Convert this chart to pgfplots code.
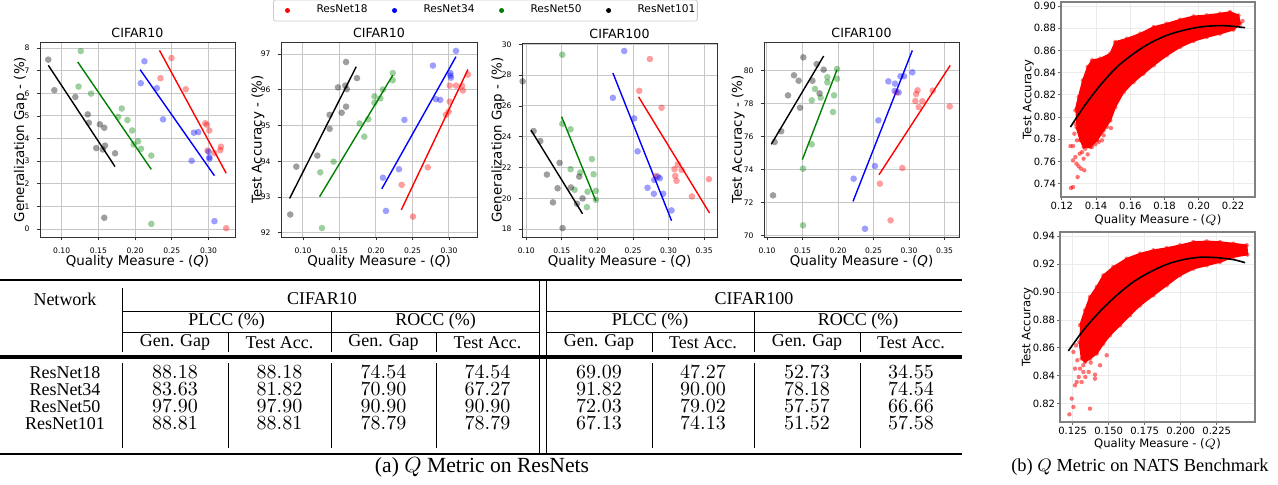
\documentclass[border=0pt]{standalone}
\usepackage{pgfplots}
\usepackage{pgfplotstable}
\usepackage{graphicx}
\pgfplotsset{compat=1.18}
\usepackage{fontspec}
\setmainfont{Liberation Serif}
\newfontfamily\djv{DejaVu Sans}
\definecolor{mgreen}{RGB}{0,128,0}

% ---- NATS clouds (outline of the dense region) ----
\pgfplotstableread{
x y
0.1279 0.8060
0.1298 0.8181
0.1323 0.8331
0.1351 0.8451
0.1376 0.8511
0.1424 0.8526
0.1483 0.8571
0.1512 0.8676
0.1580 0.8706
0.1658 0.8751
0.1736 0.8811
0.1813 0.8841
0.1891 0.8877
0.1969 0.8907
0.2046 0.8916
0.2124 0.8931
0.2182 0.8946
0.2231 0.8916
0.2241 0.8841
0.2202 0.8787
0.2124 0.8751
0.2046 0.8721
0.1969 0.8685
0.1891 0.8631
0.1813 0.8556
0.1736 0.8466
0.1677 0.8391
0.1619 0.8316
0.1561 0.8226
0.1512 0.8090
0.1483 0.7970
0.1444 0.7880
0.1405 0.7790
0.1366 0.7730
0.1327 0.7730
0.1308 0.7790
0.1285 0.7910
}\cloudA
\pgfplotstableread{
x y
0.1253 0.7361
0.1265 0.7370
0.1250 0.7739
0.1265 0.7739
0.1279 0.7640
0.1285 0.7580
0.1298 0.7556
0.1312 0.7535
0.1331 0.7520
0.1304 0.7670
0.1337 0.7715
0.1351 0.7664
0.1376 0.7730
0.1395 0.7754
0.1415 0.7775
0.1327 0.7625
0.1318 0.7685
0.1288 0.7790
0.1273 0.7850
0.1279 0.7940
0.1265 0.7610
0.1292 0.7460
0.1463 0.7910
0.1487 0.7901
0.1444 0.7835
0.1434 0.7790
0.2255 0.8865
}\tailA
\pgfplotstableread{
x y
0.1250 0.7910
0.1327 0.8090
0.1424 0.8286
0.1522 0.8451
0.1619 0.8571
0.1716 0.8667
0.1813 0.8736
0.1910 0.8781
0.2007 0.8811
0.2105 0.8823
0.2182 0.8820
0.2270 0.8805
}\curveA
\pgfplotstableread{
x y
0.1301 0.8762
0.1336 0.8869
0.1370 0.8965
0.1417 0.9037
0.1463 0.9120
0.1532 0.9180
0.1625 0.9240
0.1718 0.9276
0.1810 0.9300
0.1903 0.9316
0.1995 0.9336
0.2088 0.9359
0.2181 0.9364
0.2273 0.9359
0.2366 0.9348
0.2458 0.9336
0.2463 0.9269
0.2366 0.9252
0.2273 0.9216
0.2181 0.9192
0.2088 0.9168
0.1995 0.9120
0.1903 0.9049
0.1810 0.8977
0.1718 0.8905
0.1648 0.8834
0.1579 0.8762
0.1509 0.8690
0.1463 0.8630
0.1417 0.8559
0.1370 0.8523
0.1336 0.8499
0.1312 0.8523
0.1296 0.8642
}\cloudB
\pgfplotstableread{
x y
0.1227 0.8123
0.1243 0.8236
0.1255 0.8176
0.1266 0.8331
0.1278 0.8355
0.1292 0.8391
0.1301 0.8451
0.1324 0.8427
0.1338 0.8391
0.1361 0.8427
0.1375 0.8494
0.1405 0.8379
0.1405 0.8408
0.1266 0.8451
0.1282 0.8511
0.1370 0.8164
0.1324 0.8475
0.1312 0.8355
0.1255 0.8571
0.1273 0.8618
0.1440 0.8475
0.1486 0.8547
}\tailB
\pgfplotstableread{
x y
0.1220 0.8578
0.1324 0.8726
0.1440 0.8862
0.1556 0.8977
0.1671 0.9073
0.1787 0.9144
0.1903 0.9199
0.2018 0.9233
0.2134 0.9250
0.2250 0.9247
0.2366 0.9233
0.2447 0.9211
}\curveB

\pgfplotsset{
  qbase/.style={
    scale only axis, anchor=south west, width=97.5pt, height=97.5pt,
    axis line style={draw=black!80, line width=0.45pt},
    grid=major, grid style={draw=black!22, line width=0.5pt},
    tick align=outside, major tick length=1.7pt,
    xtick pos=left, ytick pos=left,
    tick style={draw=black!80, line width=0.4pt},
    /pgf/number format/assume math mode=true,
    every axis x label/.style={at={(axis description cs:0.5,-0.128)}, anchor=center},
    every axis y label/.style={at={(axis description cs:-0.1,0.5)}, rotate=90, anchor=center},
    every axis title/.style={at={(axis description cs:0.5,1)}, anchor=base, yshift=2.2pt, inner sep=0pt, font=\djv\fontsize{6.3}{7.5}\selectfont},
    tick label style={font=\djv\fontsize{3.8}{4.5}\selectfont},
    label style={font=\djv\fontsize{6.7}{8}\selectfont},
    xticklabel style={/pgf/number format/.cd, fixed, fixed zerofill, precision=2},
    xlabel={Quality Measure - ({\itshape Q})},
  },
  nbase/.style={
    scale only axis, anchor=south west,
    axis line style={draw=black!50, line width=0.55pt},
    grid=major, grid style={draw=black!8, line width=0.45pt},
    tick align=outside, major tick length=1.3pt,
    xtick pos=left, ytick pos=left,
    tick style={draw=black!60, line width=0.45pt},
    /pgf/number format/assume math mode=true,
    every axis x label/.style={at={(axis description cs:0.5,-0.118)}, anchor=center},
    every axis y label/.style={at={(axis description cs:-0.168,0.5)}, rotate=90, anchor=center},
    label style={font=\djv\fontsize{5.8}{7}\selectfont},
    tick label style={font=\djv\fontsize{5}{6}\selectfont},
    xticklabel style={inner sep=0.8pt},
    yticklabel style={inner sep=1pt},
    yticklabel style={/pgf/number format/.cd, fixed, fixed zerofill, precision=2},
    xlabel={Quality Measure - ($Q$)}, ylabel={Test Accuracy},
  },
  sc/.style={only marks, mark=*, mark size=1.65pt, color=#1, mark options={fill opacity=0.38, draw opacity=0}, forget plot},
  fitl/.style={color=#1, line width=0.7pt, forget plot},
  ns/.style={only marks, mark=*, mark size=1.1pt, color=red, mark options={fill opacity=0.55, draw opacity=0}, forget plot},
  limg/.style={legend image code/.code={\path[draw=none,fill=none] (-7pt,-1pt) rectangle (4pt,1pt); \fill[#1, draw=none] (0pt,0pt) circle (1.25pt);}},
}

\begin{document}
\begin{tikzpicture}
\useasboundingbox (0pt,0pt) rectangle (639pt,-242pt);

% ================= Plot 1 =================
\begin{axis}[qbase, at={(20pt,-118.5pt)},
  xmin=0.0705, xmax=0.336, ymin=-0.35, ymax=8.27,
  xtick={0.1,0.15,0.2,0.25,0.3}, ytick={0,1,2,3,4,5,6,7,8},
  title={CIFAR10}, ylabel={Generalization Gap - (\%)}]
\addplot[sc=red] coordinates {(0.2495,7.56)(0.2345,6.67)(0.2690,6.18)(0.2955,4.68)(0.2977,4.61)(0.3010,4.36)(0.2986,3.47)(0.3168,3.64)(0.3160,3.49)(0.3080,3.36)(0.3240,0.04)};
\addplot[sc=blue] coordinates {(0.2127,7.42)(0.2077,6.45)(0.2295,6.23)(0.2380,4.85)(0.2800,4.26)(0.2860,4.29)(0.2770,3.02)(0.3000,3.42)(0.3010,3.17)(0.3012,3.11)(0.3080,0.35)};
\addplot[sc=mgreen] coordinates {(0.1260,7.87)(0.1230,6.30)(0.1400,5.99)(0.1818,5.33)(0.1770,4.96)(0.1895,4.82)(0.1960,4.36)(0.2040,3.88)(0.1980,3.74)(0.2080,3.55)(0.2220,3.25)(0.2220,0.23)};
\addplot[sc=black] coordinates {(0.0818,7.49)(0.0900,6.14)(0.1186,5.84)(0.1355,5.07)(0.1370,4.70)(0.1520,4.63)(0.1580,4.48)(0.1470,3.58)(0.1590,3.69)(0.1560,3.52)(0.1727,3.35)(0.1580,0.50)};
\addplot[fitl=red] coordinates {(0.2332,7.90)(0.3240,2.47)};
\addplot[fitl=blue] coordinates {(0.2068,7.05)(0.3080,2.36)};
\addplot[fitl=mgreen] coordinates {(0.1218,7.39)(0.2220,2.64)};
\addplot[fitl=black] coordinates {(0.0818,7.24)(0.1727,2.76)};
\end{axis}

% ================= Plot 2 =================
\begin{axis}[qbase, at={(140.5pt,-118.5pt)}, width=98pt,
  xmin=0.0699, xmax=0.3384, ymin=91.88, ymax=97.34,
  xtick={0.1,0.15,0.2,0.25,0.3}, ytick={92,93,94,95,96,97},
  title={CIFAR10}, ylabel={Test Accuracy - (\%)},
  ylabel style={at={(axis description cs:-0.118,0.5)}},
  legend columns=4, legend cell align=left,
  legend style={at={(1.043,1.1615)}, anchor=center, draw=black!20, rounded corners=1pt,
    font=\djv\fontsize{5.3}{6}\selectfont, inner xsep=0pt, inner ysep=1.5pt,
    nodes={inner sep=1pt},
    /tikz/every odd column/.append style={column sep=9.5pt},
    /tikz/every even column/.append style={column sep=5.5pt}}]
\addlegendimage{limg=red}
\addlegendentry{ResNet18}
\addlegendimage{limg=blue}
\addlegendentry{ResNet34}
\addlegendimage{limg=mgreen}
\addlegendentry{ResNet50}
\addlegendimage{limg=black}
\addlegendentry{ResNet101}
\addplot[sc=red] coordinates {(0.2507,92.45)(0.2352,93.34)(0.2710,93.83)(0.2959,95.30)(0.2995,95.39)(0.3010,95.67)(0.3010,96.12)(0.3096,96.12)(0.3180,96.11)(0.3190,95.98)(0.3260,96.43)};
\addplot[sc=blue] coordinates {(0.2096,93.54)(0.2137,92.61)(0.2315,93.78)(0.2390,95.16)(0.2780,96.68)(0.2820,95.74)(0.2880,95.72)(0.3020,96.47)(0.3027,96.34)(0.3020,96.40)(0.3096,97.09)};
\addplot[sc=mgreen] coordinates {(0.1260,92.13)(0.1237,93.69)(0.1420,93.99)(0.1776,95.06)(0.1895,95.18)(0.1840,94.69)(0.1980,95.82)(0.2060,95.76)(0.1980,95.64)(0.2096,96.01)(0.2230,96.47)(0.2230,96.27)};
\addplot[sc=black] coordinates {(0.0826,92.51)(0.0909,93.85)(0.1196,94.16)(0.1365,95.30)(0.1365,94.91)(0.1480,96.07)(0.1580,96.12)(0.1600,96.02)(0.1590,96.78)(0.1740,96.33)(0.1530,95.36)(0.1590,95.53)};
\addplot[fitl=red] coordinates {(0.2347,92.64)(0.3260,96.57)};
\addplot[fitl=blue] coordinates {(0.2080,93.23)(0.3096,96.93)};
\addplot[fitl=mgreen] coordinates {(0.1228,93.01)(0.2230,96.41)};
\addplot[fitl=black] coordinates {(0.0817,92.96)(0.1730,96.65)};
\end{axis}

% ================= Plot 3 =================
\begin{axis}[qbase, at={(261pt,-118.5pt)}, height=97pt,
  xmin=0.094, xmax=0.368, ymin=17.48, ymax=30.09,
  xtick={0.1,0.15,0.2,0.25,0.3,0.35}, ytick={18,20,22,24,26,28,30},
  title={CIFAR100}, ylabel={Generalization Gap - (\%)},
  ylabel style={at={(axis description cs:-0.123,0.5)}}]
\addplot[sc=red] coordinates {(0.2587,26.98)(0.2737,29.05)(0.2901,25.88)(0.2821,21.45)(0.3083,21.89)(0.3093,21.45)(0.3111,21.13)(0.3130,22.21)(0.3182,21.84)(0.3327,20.12)(0.3566,21.24)};
\addplot[sc=blue] coordinates {(0.2217,26.53)(0.2376,29.57)(0.2517,25.19)(0.2564,23.05)(0.2704,20.68)(0.2798,21.19)(0.2793,20.29)(0.2849,21.40)(0.2877,21.30)(0.2924,20.29)(0.3041,19.21)};
\addplot[sc=mgreen] coordinates {(0.1506,29.33)(0.1506,24.84)(0.1623,24.48)(0.1623,21.89)(0.1758,21.67)(0.1679,20.55)(0.1922,22.55)(0.1946,21.56)(0.1861,20.42)(0.1852,19.42)(0.1978,20.48)(0.1978,19.90)};
\addplot[sc=black] coordinates {(0.0949,27.60)(0.1103,24.37)(0.1197,23.72)(0.1290,21.54)(0.1468,22.30)(0.1440,20.65)(0.1375,19.73)(0.1627,20.70)(0.1744,21.41)(0.1712,19.64)(0.1791,19.99)(0.1510,18.06)};
\addplot[fitl=red] coordinates {(0.2578,26.59)(0.3575,19.04)};
\addplot[fitl=blue] coordinates {(0.2217,28.14)(0.3041,18.54)};
\addplot[fitl=mgreen] coordinates {(0.1496,25.30)(0.1978,19.83)};
\addplot[fitl=black] coordinates {(0.1066,24.43)(0.1791,18.99)};
\end{axis}

% ================= Plot 4 =================
\begin{axis}[qbase, at={(382pt,-118.5pt)},
  xmin=0.0958, xmax=0.3704, ymin=69.9, ymax=81.74,
  xtick={0.1,0.15,0.2,0.25,0.3,0.35}, ytick={70,72,74,76,78,80},
  title={CIFAR100}, ylabel={Test Accuracy - (\%)},
  ylabel style={at={(axis description cs:-0.133,0.5)}}]
\addplot[sc=red] coordinates {(0.2590,73.14)(0.2740,70.91)(0.2906,74.09)(0.2826,78.68)(0.3089,78.16)(0.3100,78.58)(0.3120,78.81)(0.3136,77.79)(0.3188,78.14)(0.3333,78.79)(0.3573,77.83)};
\addplot[sc=blue] coordinates {(0.2220,73.44)(0.2380,70.40)(0.2520,74.21)(0.2568,76.98)(0.2709,79.35)(0.2803,79.21)(0.2798,78.77)(0.2854,78.68)(0.2880,79.66)(0.2930,79.66)(0.3047,79.90)};
\addplot[sc=mgreen] coordinates {(0.1507,70.61)(0.1507,74.05)(0.1630,75.53)(0.1630,78.20)(0.1676,78.89)(0.1756,78.36)(0.1850,79.60)(0.1850,79.29)(0.1944,78.50)(0.1930,77.49)(0.1986,80.10)(0.1986,79.51)};
\addplot[sc=black] coordinates {(0.1085,72.43)(0.1108,75.67)(0.1200,76.32)(0.1296,78.50)(0.1380,79.72)(0.1446,79.39)(0.1465,77.75)(0.1512,80.81)(0.1640,79.39)(0.1700,80.40)(0.1740,78.62)(0.1798,80.06)};
\addplot[fitl=red] coordinates {(0.2577,73.68)(0.3580,80.32)};
\addplot[fitl=blue] coordinates {(0.2211,72.06)(0.3047,81.23)};
\addplot[fitl=mgreen] coordinates {(0.1498,74.60)(0.1986,80.06)};
\addplot[fitl=black] coordinates {(0.1060,75.53)(0.1798,80.89)};
\end{axis}

% ================= Plot 5 (NATS, top) =================
\begin{axis}[nbase, at={(530.5pt,-98.5pt)}, width=97pt, height=97.5pt,
  xmin=0.1195, xmax=0.2328, ymin=0.728, ymax=0.9036,
  xtick={0.12,0.14,0.16,0.18,0.2,0.22},
  ytick={0.74,0.76,0.78,0.8,0.82,0.84,0.86,0.88,0.9},
  xticklabel style={/pgf/number format/.cd, fixed, fixed zerofill, precision=2}]
\addplot[fill=red, draw=red, line width=0.8pt, forget plot] table {\cloudA};
\addplot[ns] table {\cloudA};
\addplot[ns] table {\tailA};
\addplot[black, line width=0.8pt, smooth, forget plot] table {\curveA};
\end{axis}

% ================= Plot 6 (NATS, bottom) =================
\begin{axis}[nbase, at={(530pt,-211pt)}, width=97.5pt, height=95pt,
  xmin=0.1162, xmax=0.2516, ymin=0.8068, ymax=0.9431,
  xtick={0.125,0.15,0.175,0.2,0.225},
  ytick={0.82,0.84,0.86,0.88,0.9,0.92,0.94},
  xticklabel style={/pgf/number format/.cd, fixed, fixed zerofill, precision=3}]
\addplot[fill=red, draw=red, line width=0.8pt, forget plot] table {\cloudB};
\addplot[ns] table {\cloudB};
\addplot[ns] table {\tailB};
\addplot[black, line width=0.8pt, smooth, forget plot] table {\curveB};
\end{axis}

% ================= Table (pixel coordinates) =================
\begin{scope}[x=0.5pt, y=-0.5pt,
  tt/.style={font=\fontsize{9}{10}\selectfont, inner sep=0pt, anchor=center},
  nn/.style={font=\fontsize{10}{11}\selectfont, inner sep=0pt, anchor=center}]
\draw[line width=0.8pt] (0,280) -- (962,280);
\draw[line width=2pt] (0,356.7) -- (962,356.7);
\draw[line width=0.9pt] (0,454) -- (962,454);
\draw[line width=0.4pt] (122,311.5) -- (539,311.5) (546,311.5) -- (962,311.5);
\draw[line width=0.4pt] (122,332.5) -- (539,332.5) (546,332.5) -- (962,332.5);
\draw[line width=0.4pt] (539,280) -- (539,454) (546,280) -- (546,454);
\draw[line width=0.4pt] (122,288) -- (122,352) (122,363) -- (122,448);
\foreach \xx in {331,754} {\draw[line width=0.4pt] (\xx,311.5) -- (\xx,352) (\xx,363) -- (\xx,448);}
\foreach \xx in {228,436,652,860} {\draw[line width=0.4pt] (\xx,332.5) -- (\xx,352) (\xx,363) -- (\xx,448);}
\node[tt] at (65,299) {Network};
\node[tt] at (322,299) {CIFAR10};
\node[tt] at (754,299) {CIFAR100};
\node[tt] at (226.5,321) {PLCC (\%)};
\node[tt] at (435.5,321) {ROCC (\%)};
\node[tt] at (650,321) {PLCC (\%)};
\node[tt] at (858,321) {ROCC (\%)};
\foreach \xx in {175,383.5,599,807} {\node[tt] at (\xx,342.5) {Gen. Gap};}
\foreach \xx in {279.5,487.5,703,911} {\node[tt] at (\xx,342.5) {Test Acc.};}
\node[tt] at (65,372.5) {ResNet18};
\node[tt] at (65,389.5) {ResNet34};
\node[tt] at (65,406.5) {ResNet50};
\node[tt] at (65,423.5) {ResNet101};
% values
\node[nn] at (175,372.5) {$88.18$}; \node[nn] at (279.5,372.5) {$88.18$}; \node[nn] at (383.5,372.5) {$74.54$}; \node[nn] at (487.5,372.5) {$74.54$};
\node[nn] at (599,372.5) {$69.09$}; \node[nn] at (703,372.5) {$47.27$}; \node[nn] at (807,372.5) {$52.73$}; \node[nn] at (911,372.5) {$34.55$};
\node[nn] at (175,389.5) {$83.63$}; \node[nn] at (279.5,389.5) {$81.82$}; \node[nn] at (383.5,389.5) {$70.90$}; \node[nn] at (487.5,389.5) {$67.27$};
\node[nn] at (599,389.5) {$91.82$}; \node[nn] at (703,389.5) {$90.00$}; \node[nn] at (807,389.5) {$78.18$}; \node[nn] at (911,389.5) {$74.54$};
\node[nn] at (175,406.5) {$97.90$}; \node[nn] at (279.5,406.5) {$97.90$}; \node[nn] at (383.5,406.5) {$90.90$}; \node[nn] at (487.5,406.5) {$90.90$};
\node[nn] at (599,406.5) {$72.03$}; \node[nn] at (703,406.5) {$79.02$}; \node[nn] at (807,406.5) {$57.57$}; \node[nn] at (911,406.5) {$66.66$};
\node[nn] at (175,423.5) {$88.81$}; \node[nn] at (279.5,423.5) {$88.81$}; \node[nn] at (383.5,423.5) {$78.79$}; \node[nn] at (487.5,423.5) {$78.79$};
\node[nn] at (599,423.5) {$67.13$}; \node[nn] at (703,423.5) {$74.13$}; \node[nn] at (807,423.5) {$51.52$}; \node[nn] at (911,423.5) {$57.58$};
% captions
\node[font=\fontsize{10.8}{12}\selectfont, inner sep=0pt] at (482,467) {(a) $Q$ Metric on ResNets};
\node[font=\fontsize{9.2}{10}\selectfont, inner sep=0pt] at (1140,467) {(b) $Q$ Metric on NATS Benchmark};
\end{scope}
\end{tikzpicture}
\end{document}
